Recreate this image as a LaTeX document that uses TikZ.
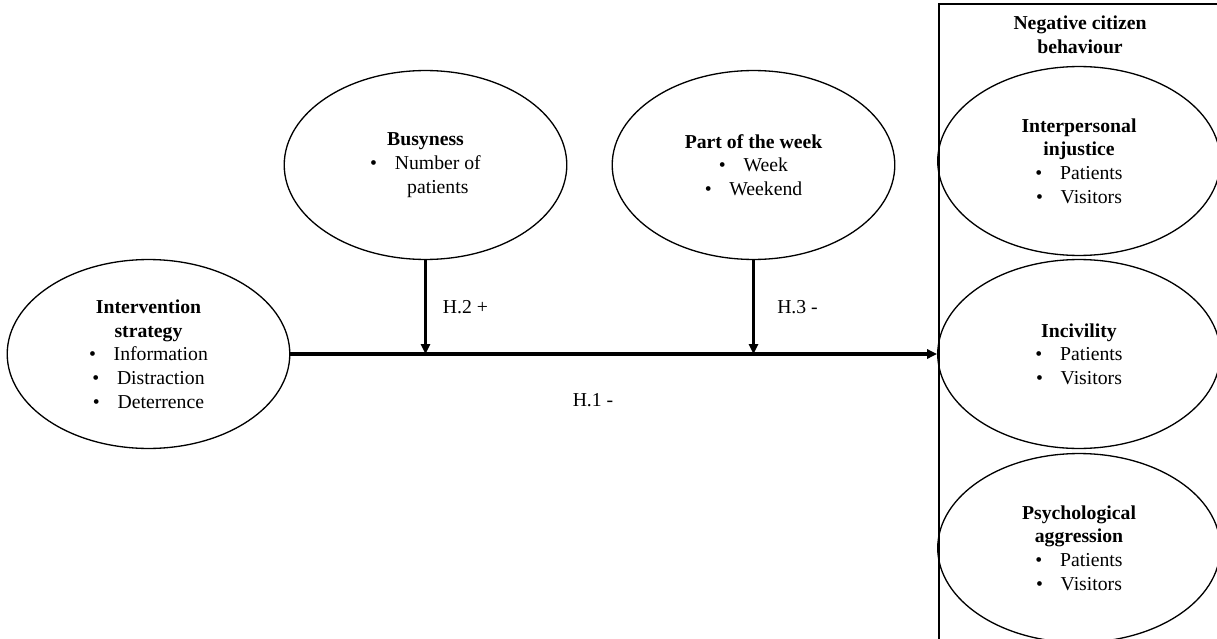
\documentclass[tikz,border=0pt]{standalone}
\usepackage{fontspec}
\setmainfont{Liberation Serif}
\usetikzlibrary{shapes.geometric,arrows.meta}
\newcommand{\bul}[1]{\textbullet\hspace{0.9em}#1}

\begin{document}
\begin{tikzpicture}[x=0.6087pt,y=-0.6087pt,
        var/.style={draw,ellipse,line width=0.8pt,minimum width=172pt,minimum height=115pt,
            inner sep=0pt,align=center,font=\fontsize{12}{14.4}\selectfont},
        lbl/.style={font=\fontsize{12}{14.4}\selectfont},
        link/.style={line width=2.3pt,-{Triangle[length=6pt,width=5.5pt]}}]
    \useasboundingbox (0,0) rectangle (1217,638);
    \clip (0,0) rectangle (1217,638);
    % box of the outcome
    \draw [line width=0.8pt] (939,700) -- (939,4) -- (1300,4);
    \node [lbl,align=center,font=\fontsize{12}{14.4}\selectfont\bfseries] (neg) at (1080,35) {Negative citizen\\behaviour};
    % variables
    \node [var] (strat) at (148.5,354) {\textbf{Intervention}\\\textbf{strategy}\\\bul{Information}\\\bul{Distraction}\\\bul{Deterrence}};
    \node [var] (busy) at (425.5,165) {\textbf{Busyness}\\\bul{Number of}\\\hphantom{\textbullet\hspace{0.9em}}patients};
    \node [var] (week) at (753.5,165) {\textbf{Part of the week}\\\bul{Week}\\\bul{Weekend}};
    \node [var] (inj) at (1079,161) {\textbf{Interpersonal}\\\textbf{injustice}\\\bul{Patients}\\\bul{Visitors}};
    \node [var] (inc) at (1079,354) {\textbf{Incivility}\\\bul{Patients}\\\bul{Visitors}};
    \node [var] (psy) at (1079,548) {\textbf{Psychological}\\\textbf{aggression}\\\bul{Patients}\\\bul{Visitors}};
    % hypotheses
    \draw [link] (strat.east) -- (inc.west);
    \draw [link] (busy.south) -- (busy.south |- strat.east);
    \draw [link] (week.south) -- (week.south |- strat.east);
    \node [lbl] (h2) at (465.5,307) {H.2 +};
    \node [lbl] (h3) at (797.5,307) {H.3 -};
    \node [lbl] (h1) at (593,400) {H.1 -};
\end{tikzpicture}
\end{document}
